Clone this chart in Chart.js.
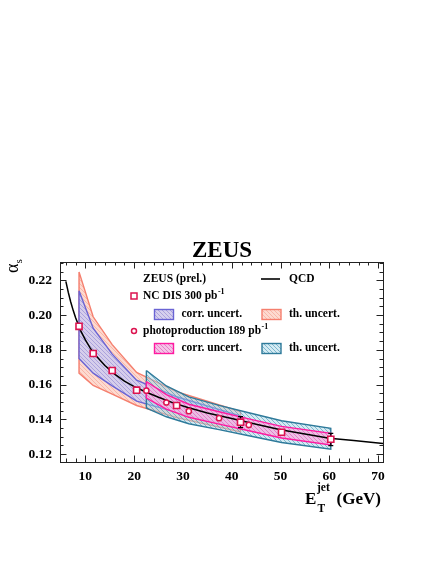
<!DOCTYPE html>
<html><head><meta charset="utf-8">
<script src="https://cdn.jsdelivr.net/npm/chart.js@4.4.1/dist/chart.umd.min.js"></script>
<style>html,body{margin:0;padding:0;background:#fff;}canvas{display:block;}</style>
</head><body>
<canvas id="c" width="436" height="564"></canvas>
<script>
// ---- data ----
const qcdX = [6, 6.5, 7, 7.5, 8, 9, 10, 11, 12, 14, 16, 18, 20, 22.5, 25, 28, 31, 35, 40, 45, 50, 55, 60, 65, 71];
const qcdY = [0.2194, 0.2130, 0.2075, 0.2027, 0.1985, 0.1912, 0.1857, 0.1810, 0.1772, 0.1710, 0.1660, 0.1620, 0.1588, 0.1556, 0.1527, 0.1495, 0.1468, 0.1437, 0.1405, 0.1372, 0.1340, 0.1316, 0.1292, 0.1278, 0.1262];

const ncdisX = [8.7, 11.6, 15.5, 20.5, 28.7, 41.8, 50.2, 60.3];
const ncdisY = [0.1935, 0.1779, 0.1681, 0.1568, 0.1480, 0.1384, 0.1326, 0.1286];
const ncdisErrLo = [0.1925, 0.1770, 0.1672, 0.1560, 0.1467, 0.1353, 0.1316, 0.1249];
const ncdisErrHi = [0.1945, 0.1788, 0.1690, 0.1576, 0.1494, 0.1416, 0.1337, 0.1320];

const phpX = [22.5, 26.6, 31.2, 37.4, 43.5];
const phpY = [0.1565, 0.1497, 0.1447, 0.1407, 0.1368];

const ncdisBandX = [8.7, 11.6, 15.5, 20.5, 28.7, 41.8];
const ncdisThUp  = [0.2248, 0.1990, 0.1830, 0.1670, 0.1560, 0.1445];
const ncdisThLo  = [0.1666, 0.1595, 0.1545, 0.1480, 0.1410, 0.1328];
const ncdisCorrUp = [0.2140, 0.1924, 0.1775, 0.1625, 0.1530, 0.1420];
const ncdisCorrLo = [0.1750, 0.1666, 0.1593, 0.1505, 0.1440, 0.1350];

const phpBandX = [22.5, 26.6, 31.2, 37.4, 43.5, 50.2, 60.3];
const phpThUp   = [0.1681, 0.1592, 0.1529, 0.1481, 0.1438, 0.1392, 0.1349];
const phpThLo   = [0.1465, 0.1415, 0.1375, 0.1341, 0.1306, 0.1267, 0.1228];
const phpCorrUp = [0.1618, 0.1542, 0.1487, 0.1444, 0.1403, 0.1360, 0.1320];
const phpCorrLo = [0.1522, 0.1459, 0.1412, 0.1373, 0.1335, 0.1293, 0.1253];

const xTickLabels = [10, 20, 30, 40, 50, 60, 70];
const yTickLabels = [0.12, 0.14, 0.16, 0.18, 0.20, 0.22];

// ---- styles ----
const SERIF = '"Liberation Serif", "Times New Roman", serif';
function hatch(bg, fg) {
  const n = 4;
  const c = document.createElement('canvas'); c.width = n; c.height = n;
  const g = c.getContext('2d');
  g.fillStyle = bg; g.fillRect(0, 0, n, n);
  g.strokeStyle = fg; g.lineWidth = 1;
  g.beginPath();
  for (let i = -1; i <= 1; i++) { g.moveTo(i * n, 0); g.lineTo(i * n + n, n); }
  g.stroke();
  return g.createPattern(c, 'repeat');
}
const C = {
  orange: { border: '#f57f6e', fill: hatch('rgb(253,218,208)', 'rgb(248,182,168)') },
  blue:   { border: '#6a64d4', fill: hatch('rgba(212,206,236,0.95)', 'rgba(170,160,220,0.95)') },
  teal:   { border: '#2e7a9a', fill: hatch('rgba(160,210,228,0.45)', 'rgba(90,160,190,0.7)') },
  pink:   { border: '#ff1aa0', fill: hatch('rgba(242,186,226,0.85)', 'rgba(228,120,200,0.9)') },
  mark: '#dc1450'
};

function band(xs, up, lo) {
  const pts = xs.map((x, i) => ({ x, y: up[i] }));
  for (let i = xs.length - 1; i >= 0; i--) pts.push({ x: xs[i], y: lo[i] });
  pts.push({ x: xs[0], y: up[0] });
  return pts;
}
function bandDs(pts, col, order) {
  return { data: pts, showLine: true, fill: 'shape', backgroundColor: col.fill, borderColor: col.border,
    borderWidth: 1.4, pointRadius: 0, tension: 0, order };
}

// ---- custom drawing: frame, ticks, error bars, legend, titles ----
const deco = {
  id: 'deco',
  afterDatasetDraw(chart, args) {
    if (args.index !== 2) return; // after QCD line, before markers
    const { ctx, scales: { x, y } } = chart;
    ctx.save(); ctx.strokeStyle = '#000'; ctx.lineWidth = 1.3;
    ncdisX.forEach((xv, i) => {
      const px = x.getPixelForValue(xv), y1 = y.getPixelForValue(ncdisErrLo[i]), y2 = y.getPixelForValue(ncdisErrHi[i]);
      ctx.beginPath(); ctx.moveTo(px, y1); ctx.lineTo(px, y2);
      ctx.moveTo(px - 2.5, y1); ctx.lineTo(px + 2.5, y1);
      ctx.moveTo(px - 2.5, y2); ctx.lineTo(px + 2.5, y2); ctx.stroke();
    });
    ctx.restore();
  },
  afterDraw(chart) {
    const { ctx, chartArea: a, scales: { x, y } } = chart;
    ctx.save();
    // frame
    ctx.strokeStyle = '#222'; ctx.lineWidth = 1;
    ctx.strokeRect(Math.round(a.left) + 0.5, Math.round(a.top) + 0.5, Math.round(a.right - a.left), Math.round(a.bottom - a.top));
    // ticks
    ctx.beginPath();
    for (let v = 6; v <= 70.01; v += 2) {
      const major = Math.abs(v % 10) < 1e-6;
      const L = major ? 6.5 : 3.5;
      const px = Math.round(x.getPixelForValue(v)) + 0.5;
      ctx.moveTo(px, a.bottom); ctx.lineTo(px, a.bottom - L);
      ctx.moveTo(px, a.top); ctx.lineTo(px, a.top + L);
    }
    for (let k = 0; k <= 22; k++) {
      const v = 0.12 + k * 0.005;
      if (v > 0.2305) break;
      const major = k % 4 === 0;
      const L = major ? 6.5 : 3.5;
      const py = Math.round(y.getPixelForValue(v)) + 0.5;
      ctx.moveTo(a.left, py); ctx.lineTo(a.left + L, py);
      ctx.moveTo(a.right, py); ctx.lineTo(a.right - L, py);
    }
    ctx.stroke();

    // title
    ctx.fillStyle = '#000';
    ctx.font = 'bold 23px ' + SERIF; ctx.textAlign = 'center'; ctx.textBaseline = 'alphabetic';
    ctx.fillText('ZEUS', 222, 257);

    // y title (alpha_s) rotated
    ctx.save(); ctx.translate(18, 273); ctx.rotate(-Math.PI / 2);
    ctx.textAlign = 'left'; ctx.font = '18px ' + SERIF; ctx.fillText('α', 0, 0);
    const aw = ctx.measureText('α').width;
    ctx.font = '11px ' + SERIF; ctx.fillText('s', aw, 3.5);
    ctx.restore();

    // x title
    ctx.textAlign = 'left';
    ctx.font = 'bold 17px ' + SERIF; ctx.fillText('E', 305, 504);
    ctx.font = 'bold 11.5px ' + SERIF; ctx.fillText('jet', 317, 491);
    ctx.fillText('T', 317.5, 511.5);
    ctx.font = 'bold 17px ' + SERIF; ctx.fillText('(GeV)', 336.5, 504);

    // legend
    const lf = 'bold 11.5px ' + SERIF;
    ctx.font = lf; ctx.textBaseline = 'middle';
    ctx.fillText('ZEUS (prel.)', 143, 279.5);
    ctx.strokeStyle = '#000'; ctx.lineWidth = 1.6;
    ctx.beginPath(); ctx.moveTo(261, 279); ctx.lineTo(280, 279); ctx.stroke();
    ctx.fillText('QCD', 289, 279.5);
    // square marker
    ctx.fillStyle = '#fff'; ctx.strokeStyle = C.mark; ctx.lineWidth = 1.5;
    ctx.fillRect(131, 293, 6, 6); ctx.strokeRect(131, 293, 6, 6);
    ctx.fillStyle = '#000';
    ctx.fillText('NC DIS 300 pb', 143, 296.5);
    let w = ctx.measureText('NC DIS 300 pb').width;
    ctx.font = 'bold 8px ' + SERIF; ctx.fillText('-1', 143 + w + 0.5, 292);
    ctx.font = lf;
    // boxes
    function box(px, py, col) {
      ctx.fillStyle = col.fill; ctx.fillRect(px, py, 19, 10);
      ctx.strokeStyle = col.border; ctx.lineWidth = 1.4; ctx.strokeRect(px, py, 19, 10);
      ctx.fillStyle = '#000';
    }
    box(154.5, 309.5, C.blue); ctx.fillText('corr. uncert.', 181.5, 314.5);
    box(262, 309.5, C.orange); ctx.fillText('th. uncert.', 289, 314.5);
    // circle marker
    ctx.fillStyle = '#fff'; ctx.strokeStyle = C.mark; ctx.lineWidth = 1.5;
    ctx.beginPath(); ctx.arc(134, 331, 2.5, 0, Math.PI * 2); ctx.fill(); ctx.stroke();
    ctx.fillStyle = '#000';
    ctx.fillText('photoproduction 189 pb', 143, 331.5);
    w = ctx.measureText('photoproduction 189 pb').width;
    ctx.font = 'bold 8px ' + SERIF; ctx.fillText('-1', 143 + w + 0.5, 327);
    ctx.font = lf;
    box(154.5, 343.5, C.pink); ctx.fillText('corr. uncert.', 181.5, 348.5);
    box(262, 343.5, C.teal); ctx.fillText('th. uncert.', 289, 348.5);
    ctx.restore();
  }
};

const tickFont = { family: SERIF, weight: 'bold', size: 13.5 };
new Chart(document.getElementById('c'), {
  type: 'scatter',
  data: {
    datasets: [
      { label: 'NC DIS', data: ncdisX.map((x, i) => ({ x, y: ncdisY[i] })), pointStyle: 'rect', pointRadius: 4.3,
        pointBackgroundColor: '#fff', pointBorderColor: C.mark, pointBorderWidth: 1.6, showLine: false, order: 0 },
      { label: 'photoproduction', data: phpX.map((x, i) => ({ x, y: phpY[i] })), pointStyle: 'circle', pointRadius: 2.6,
        pointBackgroundColor: '#fff', pointBorderColor: C.mark, pointBorderWidth: 1.5, showLine: false, order: 1 },
      { label: 'QCD', data: qcdX.map((x, i) => ({ x, y: qcdY[i] })), showLine: true, borderColor: '#000', borderWidth: 1.5,
        pointRadius: 0, tension: 0, fill: false, order: 2 },
      bandDs(band(phpBandX, phpCorrUp, phpCorrLo), C.pink, 3),
      bandDs(band(phpBandX, phpThUp, phpThLo), C.teal, 4),
      bandDs(band(ncdisBandX, ncdisCorrUp, ncdisCorrLo), C.blue, 5),
      bandDs(band(ncdisBandX, ncdisThUp, ncdisThLo), C.orange, 6)
    ]
  },
  options: {
    responsive: false, animation: false, devicePixelRatio: 1,
    layout: { padding: { left: 0, right: 53, top: 262, bottom: 0 } },
    plugins: { legend: { display: false }, tooltip: { enabled: false } },
    scales: {
      x: { type: 'linear', min: 4.8, max: 71,
        afterFit: s => { s.height = 102; },
        afterBuildTicks: s => { s.ticks = xTickLabels.map(v => ({ value: v })); },
        grid: { display: false, drawTicks: false }, border: { display: false },
        ticks: { font: tickFont, color: '#000', padding: 6, maxRotation: 0, autoSkip: false, callback: v => String(v) } },
      y: { type: 'linear', min: 0.1155, max: 0.2305,
        afterFit: s => { s.width = 60; },
        afterBuildTicks: s => { s.ticks = yTickLabels.map(v => ({ value: v })); },
        grid: { display: false, drawTicks: false }, border: { display: false },
        ticks: { font: tickFont, color: '#000', padding: 8, autoSkip: false, callback: v => v.toFixed(2) } }
    }
  },
  plugins: [deco]
});
</script>
</body></html>
